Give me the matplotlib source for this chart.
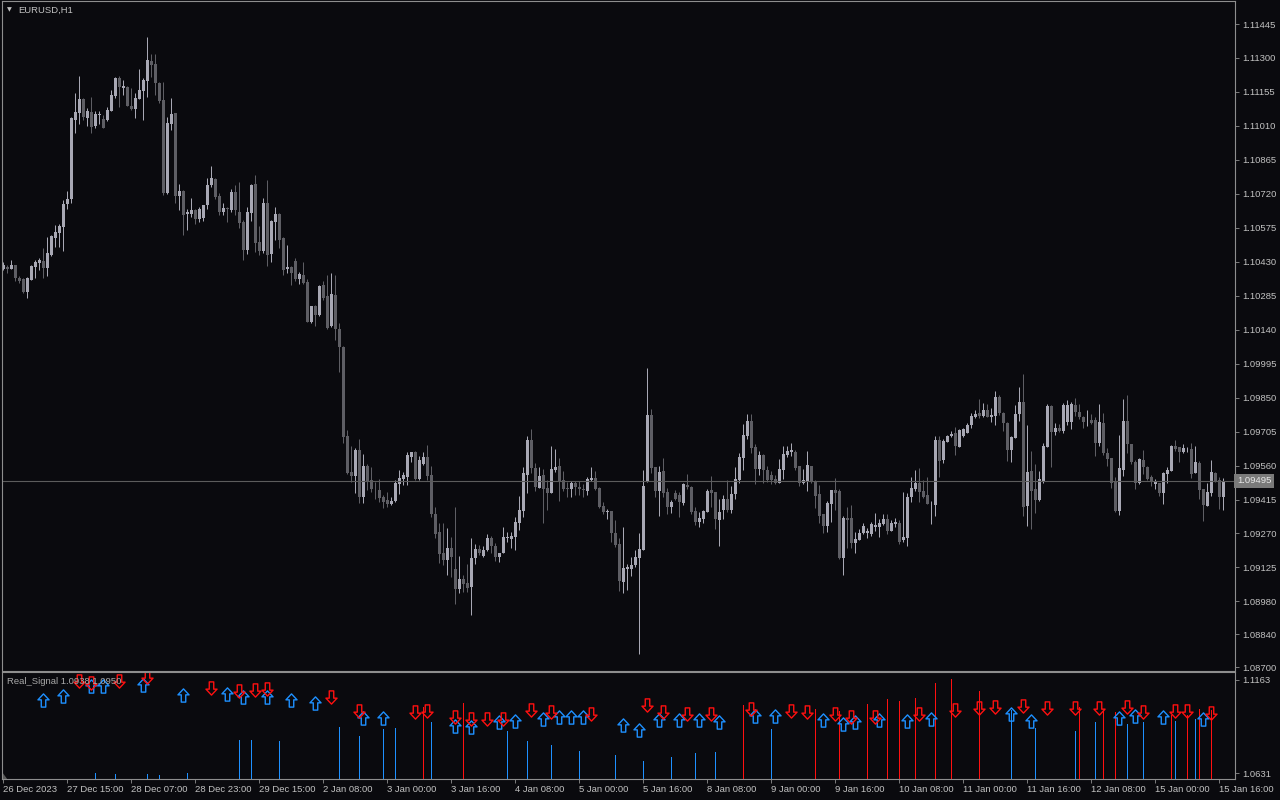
import numpy as np
import matplotlib
matplotlib.use("Agg")
import matplotlib.pyplot as plt
from matplotlib.path import Path

# EURUSD H1 candles, prices in points (1e-5), bar 0 = 26 Dec 2023
opens = [
    110400, 110408, 110401, 110417, 110362, 110358, 110303, 110354, 110409, 110425,
    110434, 110405, 110459, 110533, 110554, 110579, 110678, 110698, 111035, 111066,
    111125, 111045, 111069, 111009, 111057, 111038, 111035, 111075, 111139, 111214,
    111173, 111176, 111095, 111083, 111126, 111160, 111203, 111287, 111274, 111194,
    111121, 110724, 111018, 111064, 110712, 110732, 110634, 110634, 110651, 110613,
    110618, 110673, 110758, 110784, 110710, 110641, 110659, 110651, 110729, 110644,
    110601, 110480, 110639, 110762, 110516, 110477, 110682, 110463, 110601, 110634,
    110533, 110400, 110409, 110434, 110357, 110374, 110345, 110174, 110241, 110203,
    110331, 110284, 110155, 110289, 110143, 110067, 109686, 109531, 109517, 109627,
    109427, 109558, 109498, 109460, 109456, 109425, 109413, 109396, 109409, 109481,
    109503, 109512, 109598, 109620, 109503, 109567, 109598, 109520, 109353, 109278,
    109188, 109157, 109207, 109117, 109033, 109075, 109058, 109041, 109165, 109203,
    109174, 109200, 109250, 109217, 109171, 109188, 109252, 109246, 109256, 109313,
    109367, 109520, 109669, 109548, 109463, 109520, 109463, 109444, 109541, 109558,
    109498, 109465, 109460, 109485, 109470, 109460, 109453, 109498, 109506, 109465,
    109387, 109360, 109366, 109273, 109224, 109065, 109118, 109118, 109136, 109167,
    109200, 109491, 109776, 109552, 109452, 109537, 109446, 109384, 109442, 109435,
    109401, 109477, 109470, 109366, 109320, 109332, 109363, 109456, 109446, 109328,
    109370, 109418, 109370, 109437, 109498, 109594, 109686, 109750, 109638, 109544,
    109606, 109541, 109520, 109503, 109486, 109541, 109606, 109617, 109617, 109558,
    109486, 109491, 109558, 109491, 109439, 109352, 109303, 109396, 109456, 109452,
    109167, 109335, 109335, 109231, 109242, 109271, 109273, 109268, 109299, 109299,
    109311, 109331, 109281, 109311, 109316, 109242, 109250, 109427, 109459, 109486,
    109452, 109435, 109396, 109392, 109669, 109584, 109661, 109686, 109697, 109640,
    109686, 109700, 109733, 109768, 109786, 109772, 109797, 109768, 109773, 109854,
    109786, 109743, 109627, 109679, 109780, 109832, 109387, 109537, 109459, 109413,
    109495, 109640, 109814, 109704, 109719, 109709, 109747, 109747, 109818, 109790,
    109768, 109749, 109755, 109755, 109655, 109743, 109615, 109591, 109491, 109366,
    109541, 109750, 109652, 109574, 109486, 109584, 109555, 109512, 109480, 109485,
    109444, 109524, 109538, 109643, 109638, 109617, 109634, 109631, 109530, 109572,
    109460, 109389, 109442, 109527, 109498, 109427,
]
closes = [
    110417, 110401, 110417, 110362, 110349, 110303, 110360, 110414, 110428, 110438,
    110405, 110468, 110540, 110559, 110582, 110677, 110698, 111044, 111069, 111125,
    111047, 111074, 111006, 111061, 111061, 111002, 111077, 111140, 111214, 111175,
    111180, 111097, 111083, 111128, 111162, 111206, 111291, 111271, 111194, 111118,
    110722, 111023, 111061, 110712, 110732, 110630, 110644, 110651, 110613, 110656,
    110673, 110758, 110787, 110707, 110641, 110659, 110657, 110729, 110651, 110594,
    110480, 110644, 110758, 110511, 110477, 110682, 110459, 110605, 110634, 110523,
    110395, 110409, 110383, 110357, 110378, 110338, 110174, 110241, 110203, 110326,
    110275, 110146, 110293, 110143, 110067, 109683, 109528, 109517, 109627, 109427,
    109558, 109491, 109460, 109459, 109423, 109406, 109396, 109409, 109486, 109506,
    109520, 109606, 109617, 109503, 109584, 109596, 109515, 109353, 109268, 109183,
    109157, 109207, 109171, 109033, 109075, 109055, 109039, 109165, 109203, 109188,
    109200, 109250, 109217, 109171, 109186, 109254, 109256, 109259, 109320, 109370,
    109527, 109669, 109548, 109470, 109515, 109460, 109444, 109545, 109555, 109494,
    109460, 109460, 109485, 109467, 109460, 109457, 109503, 109508, 109460, 109384,
    109363, 109366, 109271, 109221, 109069, 109122, 109128, 109136, 109171, 109204,
    109473, 109776, 109548, 109452, 109534, 109444, 109384, 109403, 109418, 109406,
    109481, 109467, 109363, 109320, 109337, 109366, 109453, 109444, 109331, 109363,
    109418, 109370, 109439, 109503, 109595, 109691, 109750, 109636, 109544, 109606,
    109541, 109498, 109498, 109486, 109545, 109610, 109623, 109627, 109551, 109486,
    109498, 109563, 109491, 109430, 109346, 109303, 109401, 109456, 109444, 109165,
    109335, 109328, 109231, 109246, 109271, 109302, 109281, 109311, 109306, 109316,
    109331, 109282, 109316, 109320, 109233, 109254, 109427, 109465, 109486, 109449,
    109427, 109396, 109396, 109669, 109580, 109666, 109686, 109695, 109643, 109712,
    109716, 109733, 109772, 109780, 109773, 109797, 109768, 109776, 109854, 109783,
    109743, 109627, 109683, 109780, 109832, 109384, 109531, 109453, 109413, 109503,
    109643, 109814, 109704, 109719, 109709, 109818, 109818, 109823, 109790, 109766,
    109747, 109749, 109743, 109658, 109747, 109615, 109588, 109486, 109366, 109548,
    109750, 109652, 109577, 109486, 109588, 109552, 109503, 109491, 109495, 109444,
    109530, 109541, 109643, 109629, 109617, 109634, 109634, 109524, 109574, 109456,
    109392, 109446, 109531, 109495, 109427, 109495,
]
highs = [
    110429, 110417, 110438, 110417, 110369, 110361, 110366, 110417, 110438, 110444,
    110488, 110535, 110545, 110587, 110590, 110694, 110730, 111047, 111151, 111223,
    111129, 111086, 111132, 111072, 111072, 111055, 111092, 111163, 111220, 111223,
    111206, 111180, 111171, 111149, 111251, 111214, 111390, 111317, 111317, 111197,
    111199, 111047, 111128, 111065, 110762, 110736, 110654, 110701, 110656, 110665,
    110673, 110787, 110839, 110788, 110722, 110680, 110665, 110739, 110758, 110772,
    110608, 110665, 110762, 110801, 110582, 110701, 110779, 110608, 110665, 110638,
    110537, 110502, 110412, 110444, 110386, 110429, 110355, 110241, 110246, 110331,
    110349, 110374, 110381, 110374, 110167, 110070, 109712, 109643, 109634, 109672,
    109610, 109567, 109555, 109491, 109503, 109435, 109446, 109427, 109498, 109541,
    109534, 109620, 109618, 109623, 109601, 109620, 109648, 109558, 109384, 109316,
    109316, 109292, 109256, 109383, 109174, 109093, 109139, 109250, 109225, 109221,
    109217, 109268, 109259, 109231, 109187, 109297, 109278, 109278, 109339, 109428,
    109552, 109686, 109716, 109571, 109552, 109545, 109498, 109643, 109631, 109591,
    109537, 109491, 109495, 109495, 109495, 109481, 109510, 109552, 109537, 109470,
    109406, 109373, 109366, 109328, 109250, 109297, 109140, 109168, 109200, 109273,
    109541, 109975, 109800, 109554, 109558, 109591, 109463, 109413, 109456, 109449,
    109486, 109524, 109473, 109384, 109363, 109370, 109459, 109515, 109447, 109416,
    109435, 109498, 109473, 109552, 109615, 109737, 109780, 109780, 109652, 109624,
    109610, 109558, 109538, 109520, 109588, 109643, 109643, 109655, 109627, 109558,
    109544, 109624, 109558, 109498, 109477, 109353, 109409, 109456, 109506, 109459,
    109345, 109384, 109392, 109278, 109288, 109313, 109292, 109320, 109356, 109331,
    109353, 109353, 109328, 109335, 109328, 109449, 109444, 109512, 109541, 109548,
    109498, 109512, 109410, 109686, 109686, 109673, 109690, 109708, 109723, 109716,
    109719, 109740, 109783, 109797, 109843, 109826, 109823, 109804, 109878, 109862,
    109789, 109746, 109686, 109818, 109894, 109951, 109733, 109624, 109567, 109537,
    109655, 109821, 109818, 109740, 109737, 109826, 109840, 109832, 109847, 109823,
    109771, 109797, 109779, 109768, 109823, 109783, 109634, 109592, 109512, 109690,
    109843, 109861, 109652, 109584, 109591, 109627, 109558, 109520, 109501, 109486,
    109534, 109552, 109648, 109669, 109640, 109652, 109638, 109658, 109643, 109579,
    109460, 109485, 109584, 109534, 109512, 109506,
]
lows = [
    110395, 110383, 110400, 110349, 110338, 110296, 110277, 110352, 110360, 110395,
    110360, 110369, 110454, 110494, 110494, 110477, 110656, 110682, 110981, 111018,
    111035, 111009, 110981, 111001, 111018, 111001, 111031, 111074, 111128, 111092,
    111142, 111095, 111078, 111043, 111125, 111035, 111134, 111220, 111142, 111107,
    110715, 110719, 110993, 110682, 110651, 110545, 110566, 110622, 110591, 110601,
    110605, 110656, 110748, 110698, 110630, 110630, 110601, 110642, 110630, 110573,
    110438, 110463, 110604, 110473, 110459, 110467, 110412, 110431, 110523, 110488,
    110374, 110381, 110331, 110348, 110335, 110335, 110171, 110167, 110155, 110200,
    110267, 110143, 110151, 110096, 109961, 109657, 109524, 109488, 109442, 109399,
    109399, 109456, 109449, 109418, 109406, 109378, 109384, 109392, 109403, 109439,
    109477, 109477, 109577, 109498, 109498, 109563, 109498, 109339, 109250, 109143,
    109136, 109093, 109086, 108969, 109015, 109022, 109019, 108922, 109140, 109179,
    109170, 109196, 109186, 109154, 109150, 109187, 109235, 109207, 109200, 109285,
    109339, 109444, 109530, 109453, 109463, 109316, 109370, 109443, 109534, 109410,
    109453, 109427, 109425, 109435, 109435, 109425, 109435, 109495, 109456, 109377,
    109353, 109332, 109235, 109214, 109026, 109018, 109029, 109089, 109126, 108756,
    109200, 109491, 109527, 109427, 109345, 109425, 109353, 109358, 109413, 109339,
    109392, 109459, 109353, 109306, 109299, 109313, 109362, 109384, 109288, 109218,
    109332, 109360, 109358, 109418, 109486, 109541, 109673, 109615, 109481, 109520,
    109486, 109491, 109481, 109481, 109486, 109501, 109598, 109601, 109541, 109473,
    109481, 109453, 109486, 109378, 109313, 109273, 109278, 109320, 109370, 109160,
    109093, 109207, 109207, 109188, 109242, 109268, 109250, 109261, 109282, 109254,
    109306, 109268, 109281, 109296, 109225, 109235, 109217, 109406, 109452, 109406,
    109420, 109396, 109311, 109345, 109512, 109571, 109660, 109682, 109606, 109639,
    109683, 109699, 109721, 109763, 109763, 109767, 109767, 109747, 109733, 109776,
    109708, 109580, 109577, 109678, 109752, 109345, 109302, 109289, 109358, 109409,
    109486, 109639, 109555, 109690, 109704, 109697, 109733, 109716, 109772, 109757,
    109721, 109729, 109737, 109601, 109643, 109606, 109558, 109463, 109363, 109349,
    109515, 109612, 109567, 109460, 109481, 109524, 109498, 109473, 109459, 109430,
    109396, 109486, 109537, 109624, 109577, 109613, 109620, 109506, 109528, 109416,
    109325, 109387, 109430, 109490, 109374, 109370,
]

last_price = 1.09495
price_ticks = [1.11445, 1.11300, 1.11155, 1.11010, 1.10865, 1.10720, 1.10575,
               1.10430, 1.10285, 1.10140, 1.09995, 1.09850, 1.09705, 1.09560,
               1.09415, 1.09270, 1.09125, 1.08980, 1.08840, 1.08700]

time_labels = ["26 Dec 2023", "27 Dec 15:00", "28 Dec 07:00", "28 Dec 23:00",
               "29 Dec 15:00", "2 Jan 08:00", "3 Jan 00:00", "3 Jan 16:00",
               "4 Jan 08:00", "5 Jan 00:00", "5 Jan 16:00", "8 Jan 08:00",
               "9 Jan 00:00", "9 Jan 16:00", "10 Jan 08:00", "11 Jan 00:00",
               "11 Jan 16:00", "12 Jan 08:00", "15 Jan 00:00", "15 Jan 16:00"]

# Real_Signal indicator: buy / sell arrows (bar index, value)
buy_bars = [10, 15, 22, 25, 35, 45, 56, 60, 66, 72, 78, 90, 95, 113, 117, 124,
            128, 135, 139, 142, 145, 155, 159, 164, 169, 174, 179, 188, 193,
            205, 210, 213, 219, 226, 232, 252, 257, 279, 283, 290, 300]
buy_vals = [1.1049, 1.1068, 1.1125, 1.1125, 1.1131, 1.1074, 1.1081, 1.1063,
            1.1063, 1.1049, 1.1030, 1.0945, 1.0945, 1.0897, 1.0892, 1.0922,
            1.0929, 1.0939, 1.0949, 1.0949, 1.0949, 1.0903, 1.0878, 1.0935,
            1.0935, 1.0935, 1.0922, 1.0954, 1.0954, 1.0935, 1.0910, 1.0922,
            1.0935, 1.0926, 1.0939, 1.0967, 1.0929, 1.0945, 1.0954, 1.0949,
            1.0939]
sell_bars = [19, 22, 29, 36, 52, 59, 63, 66, 82, 89, 103, 106, 113, 117, 121,
             125, 132, 137, 147, 161, 165, 171, 177, 187, 197, 201, 208, 212,
             218, 229, 238, 244, 248, 255, 261, 268, 274, 281, 285, 293, 296, 302]
sell_vals = [1.1154, 1.1144, 1.1154, 1.1177, 1.1116, 1.1100, 1.1106, 1.1110,
             1.1063, 1.0986, 1.0979, 1.0983, 1.0949, 1.0941, 1.0941, 1.0941,
             1.0992, 1.0979, 1.0967, 1.1017, 1.0977, 1.0967, 1.0967, 1.0998,
             1.0986, 1.0979, 1.0967, 1.0949, 1.0949, 1.0967, 1.0992, 1.1002,
             1.1006, 1.1011, 1.1002, 1.1002, 1.1002, 1.1006, 1.0977, 1.0983,
             1.0986, 1.0973]

# histogram lines: bar, value, side (1 buy / -1 sell)
hist_bars = [23, 28, 36, 39, 46, 59, 62, 69, 84, 89, 95, 98, 105, 107, 115, 126,
             131, 137, 144, 153, 160, 167, 173, 178, 185, 192, 203, 209, 216,
             221, 224, 228, 233, 237, 244, 252, 258, 268, 269, 273, 275, 278,
             281, 285, 292, 293, 296, 298, 299, 302]
hist_vals = [1.0631, 1.0625, 1.0625, 1.0620, 1.0631, 1.0821, 1.0821, 1.0815,
             1.0893, 1.0842, 1.0882, 1.0888, 1.1006, 1.0922, 1.1030, 1.0872,
             1.0815, 1.0793, 1.0758, 1.0736, 1.0701, 1.0721, 1.0745, 1.0751,
             1.1021, 1.0884, 1.0998, 1.0983, 1.1026, 1.1055, 1.1043, 1.1059,
             1.1144, 1.1167, 1.1100, 1.0992, 1.0888, 1.0872, 1.1007, 1.0922,
             1.0986, 1.0977, 1.0912, 1.0922, 1.0964, 1.0929, 1.0964, 1.0941,
             1.0996, 1.0992]
hist_side = [1, 1, 1, 1, 1, 1, 1, 1, 1, 1, 1, 1, -1, 1, -1, 1,
             1, 1, 1, 1, 1, 1, 1, 1, -1, 1, -1, -1, -1,
             -1, -1, -1, -1, -1, -1, 1, 1, 1, -1, 1, -1, -1,
             1, 1, -1, 1, -1, 1, -1, -1]

BG = "#0a0a0e"
BULL = "#a8a8b4"
BEAR = "#5e5e64"
FRAME = "#8e8e8e"
TXT = "#c2c2c2"
BLUE = "#1e90ff"
RED = "#ff1010"

plt.rcParams["font.family"] = ["Liberation Sans", "DejaVu Sans"]

o = np.array(opens) / 1e5
c = np.array(closes) / 1e5
h = np.maximum(np.array(highs) / 1e5, np.maximum(o, c))
l = np.minimum(np.array(lows) / 1e5, np.minimum(o, c))
x = np.arange(len(o))

fig = plt.figure(figsize=(12.8, 8), dpi=100, facecolor=BG)
ax = fig.add_axes([2 / 1280, 129.5 / 800, 1233 / 1280, 669.5 / 800], facecolor=BG)
ax2 = fig.add_axes([2 / 1280, 21 / 800, 1233 / 1280, 106.7 / 800], facecolor=BG)

xmin, xmax = -0.375, 307.9

# candles
cols = np.where(c >= o, BULL, BEAR)
ax.vlines(x, l, h, colors=cols, linewidth=0.72, snap=True)
body_h = np.maximum(np.abs(c - o), 0.000012)
ax.bar(x, body_h, bottom=np.minimum(o, c), width=0.74, color=cols, linewidth=0)

ax.axhline(last_price, color="#5c5c5c", lw=0.8)
ax.set_xlim(xmin, xmax)
ax.set_ylim(1.086851, 1.115432)
ax.set_xticks([])
ax.yaxis.tick_right()
ax.set_yticks(price_ticks)
ax.set_yticklabels(["%.5f" % t for t in price_ticks])
ax.tick_params(axis="y", colors=FRAME, labelcolor=TXT, labelsize=6.8,
               length=3, width=0.6, pad=2)
ax.text(1.0015, last_price, "%.5f" % last_price, transform=ax.get_yaxis_transform(),
        ha="left", va="center", fontsize=6.8, color="#e8e8e8",
        bbox=dict(boxstyle="square,pad=0.25", fc="#7a7a7a", ec="none"))

fig.text(7 / 1280, 1 - 10 / 800, "\u25bc", color=TXT, fontsize=4.5,
         family="DejaVu Sans", va="center")
fig.text(18 / 1280, 1 - 10 / 800, "EURUSD,H1", color=TXT, fontsize=6.8, va="center")

# indicator window
base = 1.0597
ax2.set_xlim(xmin, xmax)
ax2.set_ylim(base, 1.12052)
hcols = [BLUE if s > 0 else RED for s in hist_side]
ax2.bar(hist_bars, np.array(hist_vals) - base, bottom=base, width=0.26,
        color=hcols, linewidth=0, antialiased=False)

up_arrow = Path([(0, 0.5), (0.42, 0.05), (0.17, 0.05), (0.17, -0.5),
                 (-0.17, -0.5), (-0.17, 0.05), (-0.42, 0.05), (0, 0.5)],
                [Path.MOVETO] + [Path.LINETO] * 6 + [Path.CLOSEPOLY])
down_arrow = Path([(px, -py) for px, py in up_arrow.vertices], up_arrow.codes)
ax2.plot(buy_bars, buy_vals, ls="none", marker=up_arrow, ms=9.5,
         mfc="none", mec=BLUE, mew=1.0)
ax2.plot(sell_bars, sell_vals, ls="none", marker=down_arrow, ms=9.5,
         mfc="none", mec=RED, mew=1.0)

ax2.text(0.004, 0.915, "Real_Signal 1.0938 1.0950", transform=ax2.transAxes,
         color="#a8a8a8", fontsize=6.8, va="center")
ax2.fill([0, 0.0035, 0], [0, 0, 0.055], transform=ax2.transAxes, color="#5a5a5a")

ax2.yaxis.tick_right()
ax2.set_yticks([1.1163, 1.0631])
ax2.set_yticklabels(["1.1163", "1.0631"])
ax2.tick_params(axis="y", colors=FRAME, labelcolor=TXT, labelsize=6.8,
                length=3, width=0.6, pad=2)
ax2.set_xticks(np.arange(0, len(o), 16))
ax2.set_xticklabels(time_labels)
ax2.tick_params(axis="x", colors=FRAME, labelcolor=TXT, labelsize=6.8,
                length=3, width=0.6, pad=1.5)
for t in ax2.get_xticklabels():
    t.set_horizontalalignment("left")

for a in (ax, ax2):
    for s in a.spines.values():
        s.set_color(FRAME)
        s.set_linewidth(0.8)

fig.savefig("out.png", dpi=100, facecolor=BG)
